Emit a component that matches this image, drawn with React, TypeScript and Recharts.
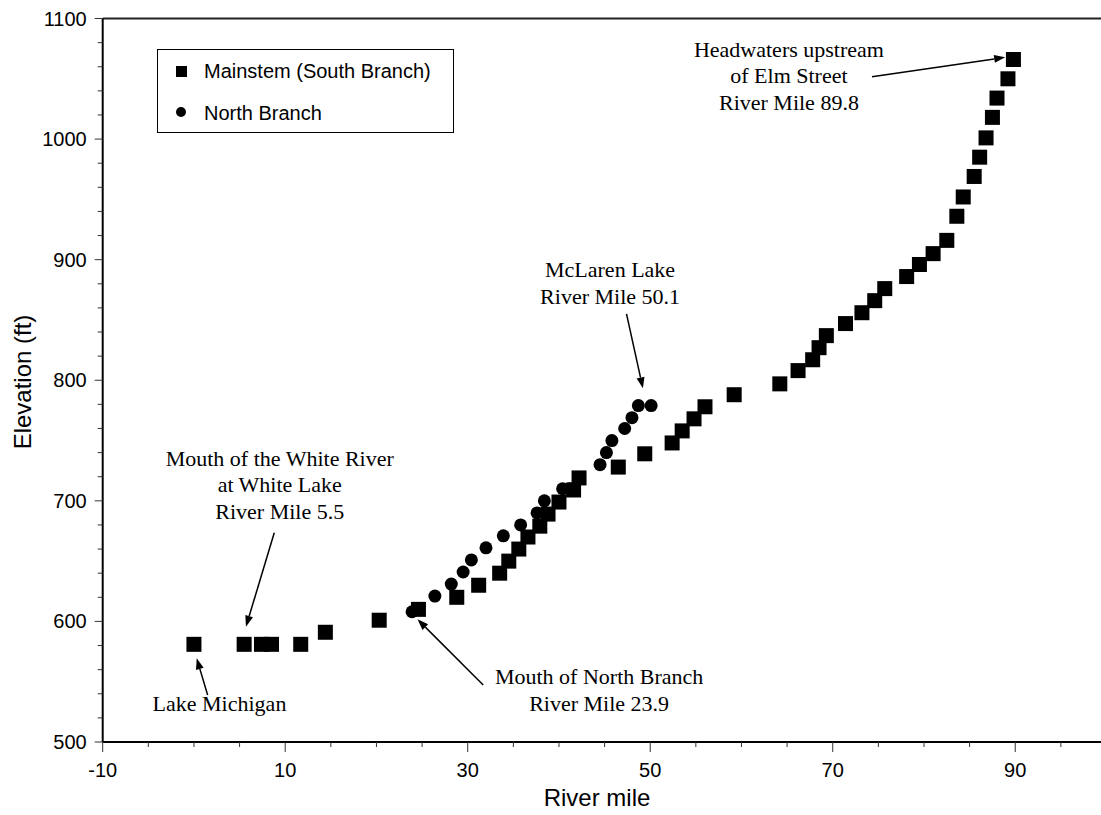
import React from "react";
import {
  ScatterChart,
  Scatter,
  XAxis,
  YAxis,
  ReferenceLine,
  ReferenceDot,
} from "recharts";

// ---- Data (river mile, elevation ft) ----
const mainstemMiles = [
  0, 5.5, 7.4, 8.5, 11.7, 14.4, 20.3, 24.6, 28.8, 31.2, 33.5, 34.5, 35.6, 36.6,
  37.9, 38.8, 40.0, 41.6, 42.2, 46.5, 49.4, 52.4, 53.5, 54.8, 56.0, 59.2, 64.2,
  66.2, 67.8, 68.5, 69.3, 71.4, 73.2, 74.6, 75.7, 78.1, 79.5, 81.0, 82.5, 83.6,
  84.3, 85.5, 86.1, 86.8, 87.5, 88.0, 89.2, 89.8,
];
const mainstemElev = [
  581, 581, 581, 581, 581, 591, 601, 610, 620, 630, 640, 650, 660, 670, 679,
  689, 699, 709, 719, 728, 739, 748, 758, 768, 778, 788, 797, 808, 817, 827,
  837, 847, 856, 866, 876, 886, 896, 905, 916, 936, 952, 969, 985, 1001, 1018,
  1034, 1050, 1066,
];
const northMiles = [
  23.9, 26.4, 28.2, 29.5, 30.4, 32.0, 33.9, 35.8, 37.6, 38.4, 40.4, 41.2, 44.5,
  45.2, 45.8, 47.2, 48.0, 48.7, 50.1,
];
const northElev = [
  608, 621, 631, 641, 651, 661, 671, 680, 690, 700, 710, 710, 730, 740, 750,
  760, 769, 779, 779,
];

const xTicks = [
  -10, -5, 0, 5, 10, 15, 20, 25, 30, 35, 40, 45, 50, 55, 60, 65, 70, 75, 80, 85,
  90, 95, 100,
];
const xMajor = [-10, 10, 30, 50, 70, 90];
const yTicks = [
  500, 520, 540, 560, 580, 600, 620, 640, 660, 680, 700, 720, 740, 760, 780, 800,
  820, 840, 860, 880, 900, 920, 940, 960, 980, 1000, 1020, 1040, 1060, 1080, 1100,
];
const yMajor = [500, 600, 700, 800, 900, 1000, 1100];

const seriesNames = ["Mainstem (South Branch)", "North Branch"];
const axisTitles = { x: "River mile", y: "Elevation (ft)" };

// Annotations in data coordinates
const annotationLines = [
  ["Headwaters upstream", "of Elm Street", "River Mile 89.8"],
  ["McLaren Lake", "River Mile 50.1"],
  ["Mouth of the White River", "at White Lake", "River Mile 5.5"],
  ["Lake Michigan"],
  ["Mouth of North Branch", "River Mile 23.9"],
];
const annotationAt = [
  { x: 65.2, y: 1074.7 },
  { x: 45.6, y: 892 },
  { x: 9.4, y: 735.3 },
  { x: 2.8, y: 532.3 },
  { x: 44.4, y: 554.1 },
];
const arrowFrom = [
  { x: 74.3, y: 1051.7 },
  { x: 47.4, y: 855 },
  { x: 8.8, y: 673.6 },
  { x: 1.5, y: 539 },
  { x: 31.7, y: 547.3 },
];
const arrowTo = [
  { x: 88.9, y: 1067.8 },
  { x: 49.2, y: 793.3 },
  { x: 5.7, y: 595.6 },
  { x: 0.3, y: 569.4 },
  { x: 24.5, y: 601.7 },
];

const mainstemData = mainstemMiles.map((m, i) => ({ mile: m, elev: mainstemElev[i] }));
const northData = northMiles.map((m, i) => ({ mile: m, elev: northElev[i] }));

const SANS = "'Liberation Sans', Arial, Helvetica, sans-serif";
const SERIF = "'Liberation Serif', 'Times New Roman', Times, serif";

const XTick = (props: any) => {
  const { x, y, payload } = props;
  const v = payload.value;
  const major = xMajor.includes(v);
  return (
    <g>
      <line x1={x} x2={x} y1={y} y2={y + (major ? 10 : 5)} stroke="#333" strokeWidth={1} />
      {major && (
        <text x={x} y={y + 35} textAnchor="middle" fontSize={20} fontFamily={SANS} fill="#000">
          {v}
        </text>
      )}
    </g>
  );
};

const YTick = (props: any) => {
  const { x, y, payload } = props;
  const v = payload.value;
  const major = yMajor.includes(v);
  return (
    <g>
      <line x1={x} x2={x - (major ? 8 : 5)} y1={y} y2={y} stroke="#333" strokeWidth={1} />
      {major && (
        <text x={x - 16} y={y + 7} textAnchor="end" fontSize={20} fontFamily={SANS} fill="#000">
          {v}
        </text>
      )}
    </g>
  );
};

const SquareShape = (props: any) => {
  const { cx, cy } = props;
  return <rect x={cx - 7.5} y={cy - 7.5} width={15} height={15} fill="#000" />;
};
const CircleShape = (props: any) => {
  const { cx, cy } = props;
  return <circle cx={cx} cy={cy} r={6.5} fill="#000" />;
};

const makeTextShape = (lines: string[]) => (props: any) => {
  const { cx, cy } = props;
  return (
    <text
      x={cx}
      y={cy}
      textAnchor="middle"
      fontSize={22}
      fontFamily={SERIF}
      fill="#000"
    >
      {lines.map((l, i) => (
        <tspan key={i} x={cx} dy={i === 0 ? "0.35em" : 26.5}>
          {l}
        </tspan>
      ))}
    </text>
  );
};

const ArrowShape = (props: any) => {
  const { x1, y1, x2, y2 } = props;
  const dx = x2 - x1;
  const dy = y2 - y1;
  const len = Math.sqrt(dx * dx + dy * dy) || 1;
  const ux = dx / len;
  const uy = dy / len;
  const hl = 11;
  const hw = 4;
  const bx = x2 - ux * hl;
  const by = y2 - uy * hl;
  const px = -uy * hw;
  const py = ux * hw;
  return (
    <g>
      <line x1={x1} y1={y1} x2={bx} y2={by} stroke="#000" strokeWidth={1.5} />
      <polygon
        points={`${x2},${y2} ${bx + px},${by + py} ${bx - px},${by - py}`}
        fill="#000"
      />
    </g>
  );
};

export default function App() {
  return (
    <div
      style={{
        position: "absolute",
        left: 0,
        top: 0,
        width: 1101,
        height: 815,
        overflow: "hidden",
        background: "#fff",
      }}
    >
      <ScatterChart
        width={1120}
        height={815}
        margin={{ top: 18.5, right: 13.5, bottom: 43, left: 42.7 }}
      >
        <XAxis
          type="number"
          dataKey="mile"
          domain={[-10, 100]}
          ticks={xTicks}
          interval={0}
          allowDataOverflow
          height={30}
          tickSize={0}
          tickMargin={0}
          tick={<XTick />}
          axisLine={{ stroke: "#000", strokeWidth: 2 }}
          tickLine={false}
        />
        <YAxis
          type="number"
          dataKey="elev"
          domain={[500, 1100]}
          ticks={yTicks}
          interval={0}
          allowDataOverflow
          width={60}
          tickSize={0}
          tickMargin={0}
          tick={<YTick />}
          axisLine={{ stroke: "#000", strokeWidth: 2 }}
          tickLine={false}
        />
        <ReferenceLine y={1100} stroke="#222" strokeWidth={2} />
        <Scatter
          name={seriesNames[0]}
          data={mainstemData}
          shape={<SquareShape />}
          isAnimationActive={false}
        />
        <Scatter
          name={seriesNames[1]}
          data={northData}
          shape={<CircleShape />}
          isAnimationActive={false}
        />
        {annotationLines.map((lines, i) => (
          <ReferenceDot
            key={"t" + i}
            x={annotationAt[i].x}
            y={annotationAt[i].y}
            r={0}
            ifOverflow="visible"
            shape={makeTextShape(lines)}
          />
        ))}
        {arrowFrom.map((f, i) => (
          <ReferenceLine
            key={"a" + i}
            segment={[f, arrowTo[i]]}
            ifOverflow="visible"
            shape={ArrowShape}
          />
        ))}
      </ScatterChart>

      {/* axis titles */}
      <div
        style={{
          position: "absolute",
          left: 597,
          top: 786,
          transform: "translateX(-50%)",
          fontFamily: SANS,
          fontSize: 24,
          lineHeight: "24px",
          whiteSpace: "nowrap",
          color: "#000",
        }}
      >
        {axisTitles.x}
      </div>
      <div
        style={{
          position: "absolute",
          left: 23,
          top: 382,
          transform: "translate(-50%, -50%) rotate(-90deg)",
          fontFamily: SANS,
          fontSize: 24,
          lineHeight: "24px",
          whiteSpace: "nowrap",
          color: "#000",
        }}
      >
        {axisTitles.y}
      </div>

      {/* legend */}
      <div
        style={{
          position: "absolute",
          left: 157,
          top: 49,
          height: 84,
          padding: "0 22px 0 0",
          border: "1.5px solid #000",
          fontFamily: SANS,
          fontSize: 20,
          color: "#000",
          background: "#fff",
          boxSizing: "border-box",
        }}
      >
        <div style={{ position: "relative", height: 42, display: "flex", alignItems: "center", paddingLeft: 46 }}>
          <span style={{ position: "absolute", left: 18, top: 16, width: 11, height: 11, background: "#000" }} />
          <span style={{ whiteSpace: "nowrap" }}>{seriesNames[0]}</span>
        </div>
        <div style={{ position: "relative", height: 42, display: "flex", alignItems: "center", paddingLeft: 46 }}>
          <span style={{ position: "absolute", left: 18, top: 15, width: 10, height: 10, borderRadius: 5, background: "#000" }} />
          <span style={{ whiteSpace: "nowrap" }}>{seriesNames[1]}</span>
        </div>
      </div>
    </div>
  );
}
